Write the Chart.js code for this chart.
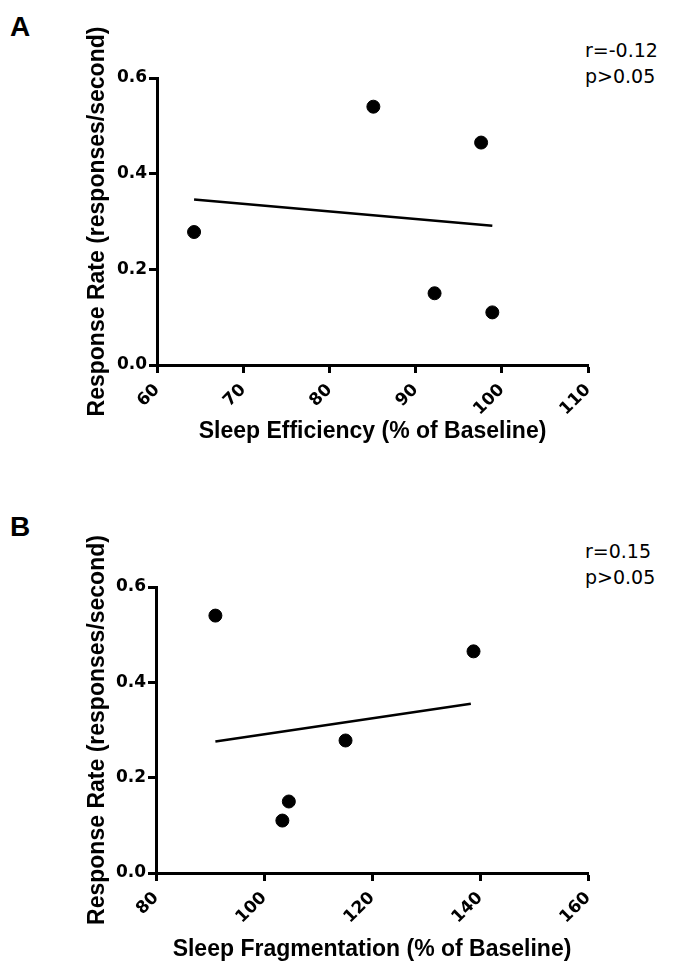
<!DOCTYPE html>
<html>
<head>
<meta charset="utf-8">
<script src="https://cdn.jsdelivr.net/npm/chart.js@4"></script>
<style>
  html, body { margin: 0; padding: 0; background: #fff; }
  .page { position: relative; width: 673px; height: 971px; overflow: hidden; }
  .page canvas { position: absolute; left: 0; }
  .panel-tag { position: absolute; left: 10px; font: bold 28px 'Liberation Sans', Arial, sans-serif; line-height: 28px; color: #000; }
  .stats { position: absolute; left: 585px; font: 19px 'DejaVu Sans', sans-serif; line-height: 26px; color: #000; }
</style>
</head>
<body>
<div class="page">
  <div class="panel-tag" style="top:13px">A</div>
  <div class="stats" style="top:37px">r=-0.12<br>p&gt;0.05</div>
  <canvas id="chartA" width="673" height="460" style="top:0"></canvas>

  <div class="panel-tag" style="top:513px">B</div>
  <div class="stats" style="top:538px">r=0.15<br>p&gt;0.05</div>
  <canvas id="chartB" width="673" height="491" style="top:480px"></canvas>
</div>
<script>
// values (one entry per subject)
const responseRate = [0.54, 0.465, 0.278, 0.15, 0.11];
const sleepEfficiency = [85.1, 97.6, 64.3, 92.2, 98.9];
const sleepFragmentation = [91.0, 138.8, 115.1, 104.6, 103.4];

// fitted line end points as drawn
const fitEffX = [64.3, 98.9];
const fitEffY = [0.346, 0.291];
const fitFragX = [91.0, 138.3];
const fitFragY = [0.276, 0.355];

const yTicks = [0.0, 0.2, 0.4, 0.6];
const effTicks = [60, 70, 80, 90, 100, 110];
const fragTicks = [80, 100, 120, 140, 160];

const yTitle = 'Response Rate (responses/second)';
const effTitle = 'Sleep Efficiency (% of Baseline)';
const fragTitle = 'Sleep Fragmentation (% of Baseline)';

Chart.defaults.color = '#000';
Chart.defaults.animation = false;

const tickFont = { family: "'DejaVu Sans', sans-serif", size: 17, weight: 'bold' };
const titleFont = { family: "'Liberation Sans', Arial, sans-serif", size: 23, weight: 'bold' };

function toPoints(xs, ys) {
    return xs.map((x, i) => ({ x: x, y: ys[i] }));
}

function axisGrid() {
    return { display: true, drawOnChartArea: false, drawTicks: true, tickLength: 8, tickWidth: 3, tickColor: '#000' };
}

function makeScatter(id, xs, fitX, fitY, xTicks, xTitle, opts) {
    const ctx = document.getElementById(id);
    new Chart(ctx, {
        type: 'scatter',
        data: {
            datasets: [
                {
                    data: toPoints(xs, responseRate),
                    backgroundColor: '#000',
                    borderColor: '#000',
                    pointRadius: 6.5,
                    pointHoverRadius: 6.5
                },
                {
                    data: toPoints(fitX, fitY),
                    showLine: true,
                    borderColor: '#000',
                    borderWidth: 2.5,
                    pointRadius: 0,
                    fill: false
                }
            ]
        },
        options: {
            responsive: false,
            maintainAspectRatio: false,
            layout: { padding: { left: 84, right: 85, top: opts.top, bottom: opts.bottom } },
            plugins: { legend: { display: false }, tooltip: { enabled: false } },
            scales: {
                x: {
                    type: 'linear',
                    min: xTicks[0],
                    max: xTicks[xTicks.length - 1],
                    afterBuildTicks: s => { s.ticks = xTicks.map(v => ({ value: v })); },
                    afterFit: s => { s.height = opts.xHeight; },
                    grid: axisGrid(),
                    border: { display: true, color: '#000', width: 3 },
                    ticks: { font: tickFont, minRotation: 45, maxRotation: 45, padding: 7, color: '#000' },
                    title: { display: true, text: xTitle, font: titleFont, padding: 0, color: '#000' }
                },
                y: {
                    min: 0,
                    max: 0.6,
                    afterBuildTicks: s => { s.ticks = yTicks.map(v => ({ value: v })); },
                    afterFit: s => { s.width = opts.yWidth; },
                    grid: axisGrid(),
                    border: { display: true, color: '#000', width: 3 },
                    ticks: { font: tickFont, padding: 2, color: '#000', callback: v => v.toFixed(1) },
                    title: { display: true, text: yTitle, font: titleFont, padding: 0, color: '#000' }
                }
            }
        }
    });
}

makeScatter('chartA', sleepEfficiency, fitEffX, fitEffY, effTicks, effTitle,
    { top: 78, bottom: 15, xHeight: 80, yWidth: 73 });
makeScatter('chartB', sleepFragmentation, fitFragX, fitFragY, fragTicks, fragTitle,
    { top: 107, bottom: 8, xHeight: 90, yWidth: 72 });
</script>
</body>
</html>
